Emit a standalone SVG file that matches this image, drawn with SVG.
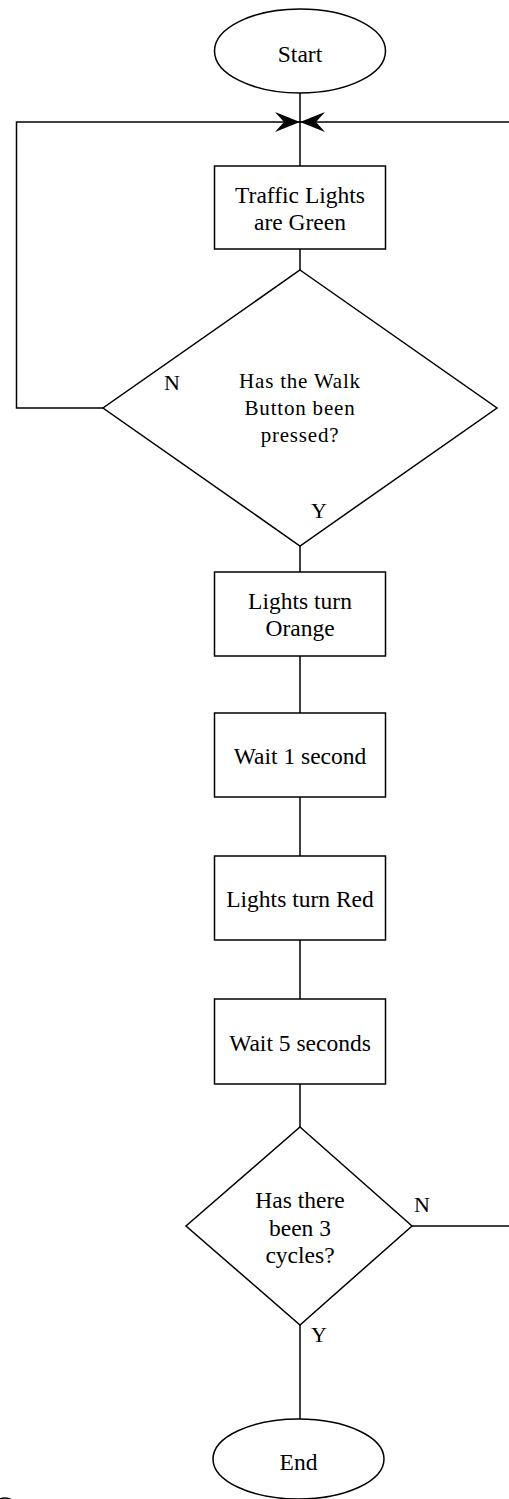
<svg xmlns="http://www.w3.org/2000/svg" width="509" height="1499" viewBox="0 0 509 1499">
<style>
.s{fill:#fff;stroke:#000;stroke-width:1.5}
.c{fill:none;stroke:#000;stroke-width:1.5}
.t{font-family:"Liberation Serif","Times New Roman",serif;font-size:23.5px;fill:#000;text-anchor:middle}
.q{font-family:"Liberation Serif","Times New Roman",serif;font-size:21px;letter-spacing:0.8px;fill:#000;text-anchor:middle}
.l{font-family:"Liberation Serif","Times New Roman",serif;font-size:22px;fill:#000}
</style>
<defs>
<marker id="ah" markerUnits="userSpaceOnUse" viewBox="-26 -11 27 22" markerWidth="27" markerHeight="22" refX="0" refY="0" orient="auto">
<path d="M0,0 L-25,-10 L-16,0 L-25,10 Z" fill="#000"/>
</marker>
</defs>
<rect width="509" height="1499" fill="#fff"/>
<g id="connectors">
<path class="c" d="M300,93 V166"/>
<path class="c" d="M103,408 H16.5 V122 H300" marker-end="url(#ah)"/>
<path class="c" d="M509,122 H300" marker-end="url(#ah)"/>
<path class="c" d="M412,1226 H509"/>
<path class="c" d="M300,249 V270"/>
<path class="c" d="M300,546 V572"/>
<path class="c" d="M300,656 V713"/>
<path class="c" d="M300,797 V856"/>
<path class="c" d="M300,940 V999"/>
<path class="c" d="M300,1084 V1127"/>
<path class="c" d="M300,1325 V1419"/>
</g>
<g id="start">
<ellipse class="s" cx="300" cy="51" rx="85.5" ry="42"/>
<text class="t" x="300" y="62">Start</text>
</g>
<g id="green">
<rect class="s" x="214.5" y="166" width="171" height="83"/>
<text class="t" x="300" y="203">Traffic Lights</text>
<text class="t" x="300" y="230">are Green</text>
</g>
<g id="walk">
<polygon class="s" points="300,270 497,408 300,546 103,408"/>
<text class="q" x="300" y="388">Has the Walk</text>
<text class="q" x="300" y="415">Button been</text>
<text class="q" x="300" y="442">pressed?</text>
<text class="l" x="164" y="390">N</text>
<text class="l" x="311" y="518">Y</text>
</g>
<g id="orange">
<rect class="s" x="214.5" y="572" width="171" height="84"/>
<text class="t" x="300" y="609">Lights turn</text>
<text class="t" x="300" y="636">Orange</text>
</g>
<g id="wait1">
<rect class="s" x="214.5" y="713" width="171" height="84"/>
<text class="t" x="300" y="764">Wait 1 second</text>
</g>
<g id="red">
<rect class="s" x="214.5" y="856" width="171" height="84"/>
<text class="t" x="300" y="907">Lights turn Red</text>
</g>
<g id="wait5">
<rect class="s" x="214.5" y="999" width="171" height="85"/>
<text class="t" x="300" y="1051">Wait 5 seconds</text>
</g>
<g id="cycles">
<polygon class="s" points="300,1127 412,1226 300,1325 186,1226"/>
<text class="t" x="300" y="1208">Has there</text>
<text class="t" x="300" y="1236">been 3</text>
<text class="t" x="300" y="1263">cycles?</text>
<text class="l" x="414" y="1212">N</text>
<text class="l" x="311" y="1342">Y</text>
</g>
<g id="end">
<ellipse class="s" cx="298.5" cy="1459" rx="85.5" ry="40"/>
<text class="t" x="298.5" y="1470">End</text>
</g>
<g id="corner">
<circle class="c" cx="5" cy="1511" r="13"/>
</g>
</svg>
